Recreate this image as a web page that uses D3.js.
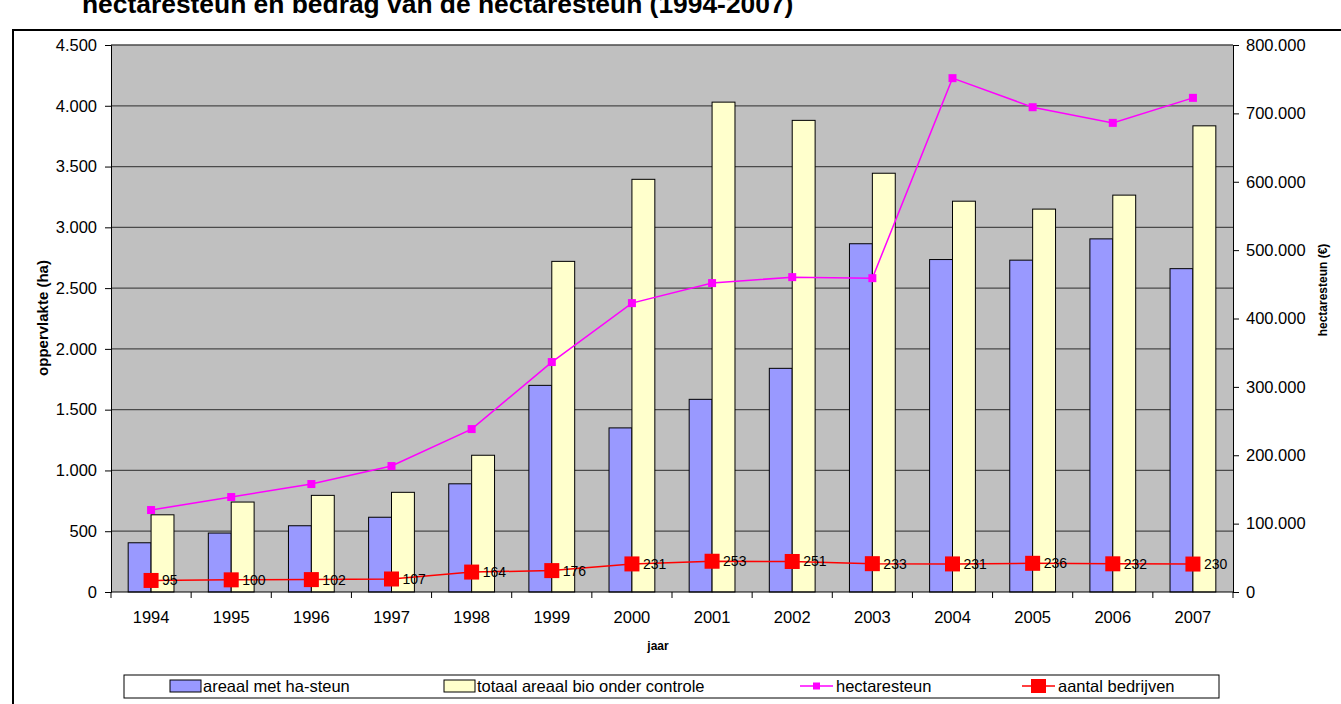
<!DOCTYPE html>
<html lang="nl">
  <head>
    <meta http-equiv="Content-Type" content="text/html; charset=UTF-8">
    <title>hectaresteun en bedrag van de hectaresteun (1994-2007)</title>
    <script type="text/javascript" src="https://cdn.jsdelivr.net/npm/d3@7"></script>
    <style type="text/css">
      body { margin: 0; background: white; }
      text { font-family: "Liberation Sans", Arial, sans-serif; }
    </style>
  </head>
  <body>
    <script type="text/javascript">

      var jaren = [ 1994, 1995, 1996, 1997, 1998, 1999, 2000, 2001, 2002, 2003, 2004, 2005, 2006, 2007 ];
      var areaalSteun = [ 405, 485, 545, 615, 890, 1700, 1350, 1585, 1840, 2865, 2735, 2730, 2905, 2660 ];
      var areaalTotaal = [ 635, 740, 795, 820, 1125, 2720, 3395, 4030, 3880, 3445, 3215, 3150, 3265, 3835 ];
      var hectaresteun = [ 119900, 138900, 157900, 184200, 238300, 336300, 422500, 451800, 460500, 459000, 751500, 709000, 686100, 722700 ];
      var bedrijven = [ 95, 100, 102, 107, 164, 176, 231, 253, 251, 233, 231, 236, 232, 230 ];
      var linksTicks = [ 0, 500, 1000, 1500, 2000, 2500, 3000, 3500, 4000, 4500 ];
      var rechtsTicks = [ 0, 100000, 200000, 300000, 400000, 500000, 600000, 700000, 800000 ];
      var legendaItems = [
        { label: "areaal met ha-steun", type: "bar", color: "#9999FF", x: 170 },
        { label: "totaal areaal bio onder controle", type: "bar", color: "#FFFFCC", x: 444 },
        { label: "hectaresteun", type: "line", color: "#FF00FF", x: 800 },
        { label: "aantal bedrijven", type: "line", color: "#FF0000", x: 1022 }
      ];

      var ancho = 1341;
      var alto = 704;
      var links = 111, rechts = 1233, boven = 45, onder = 592;

      var nl = d3.formatLocale({ decimal: ",", thousands: ".", grouping: [3], currency: ["€", ""] });
      var fmt = nl.format(",.0f");

      var svg = d3.select("body").append("svg")
                  .attr("width", ancho)
                  .attr("height", alto);

      // title sits above the frame and is cut by the page top, like the original
      svg.append("text")
         .attr("x", 82).attr("y", 13)
         .attr("font-size", 26.4).attr("font-weight", "bold")
         .text("hectaresteun en bedrag van de hectaresteun (1994-2007)");

      // outer frame of the chart
      svg.append("rect")
         .attr("x", 13).attr("y", 30)
         .attr("width", ancho + 10).attr("height", alto + 10)
         .attr("fill", "white").attr("stroke", "black").attr("stroke-width", 2);

      var escalaX = d3.scaleBand().domain(jaren).range([links, rechts]);
      var escalaY = d3.scaleLinear().domain([0, 4500]).range([onder, boven]);
      var escalaY2 = d3.scaleLinear().domain([0, 800000]).range([onder, boven]);
      var barW = escalaX.bandwidth() / 3.5;

      svg.append("rect")
         .attr("x", links).attr("y", boven)
         .attr("width", rechts - links).attr("height", onder - boven)
         .attr("fill", "#C0C0C0");

      svg.selectAll("line.grid")
         .data(linksTicks.slice(1))
         .enter().append("line")
         .attr("class", "grid")
         .attr("x1", links).attr("x2", rechts)
         .attr("y1", (d) => escalaY(d)).attr("y2", (d) => escalaY(d))
         .attr("stroke", "#4a4a4a").attr("stroke-width", 1.3);

      svg.selectAll("rect.steun")
         .data(areaalSteun)
         .enter().append("rect")
         .attr("class", "steun")
         .attr("x", (d, i) => escalaX(jaren[i]) + escalaX.bandwidth() / 2 - barW)
         .attr("y", (d) => escalaY(d))
         .attr("width", barW)
         .attr("height", (d) => onder - escalaY(d))
         .attr("fill", "#9999FF").attr("stroke", "black").attr("stroke-width", 1);

      svg.selectAll("rect.totaal")
         .data(areaalTotaal)
         .enter().append("rect")
         .attr("class", "totaal")
         .attr("x", (d, i) => escalaX(jaren[i]) + escalaX.bandwidth() / 2)
         .attr("y", (d) => escalaY(d))
         .attr("width", barW)
         .attr("height", (d) => onder - escalaY(d))
         .attr("fill", "#FFFFCC").attr("stroke", "black").attr("stroke-width", 1);

      var cx = (d, i) => escalaX(jaren[i]) + escalaX.bandwidth() / 2;

      // hectaresteun on right axis
      var lijn2 = d3.line().x(cx).y((d) => escalaY2(d));
      svg.append("path")
         .datum(hectaresteun)
         .attr("d", lijn2)
         .attr("fill", "none").attr("stroke", "#FF00FF").attr("stroke-width", 1.5);
      svg.selectAll("rect.hs")
         .data(hectaresteun)
         .enter().append("rect")
         .attr("class", "hs")
         .attr("x", (d, i) => cx(d, i) - 4).attr("y", (d) => escalaY2(d) - 4)
         .attr("width", 8).attr("height", 8)
         .attr("fill", "#FF00FF");

      // aantal bedrijven on left axis
      var lijn1 = d3.line().x(cx).y((d) => escalaY(d));
      svg.append("path")
         .datum(bedrijven)
         .attr("d", lijn1)
         .attr("fill", "none").attr("stroke", "#FF0000").attr("stroke-width", 1.5);
      svg.selectAll("rect.bed")
         .data(bedrijven)
         .enter().append("rect")
         .attr("class", "bed")
         .attr("x", (d, i) => cx(d, i) - 7.5).attr("y", (d) => escalaY(d) - 7.5)
         .attr("width", 15).attr("height", 15)
         .attr("fill", "#FF0000");
      svg.selectAll("text.bed")
         .data(bedrijven)
         .enter().append("text")
         .attr("class", "bed")
         .attr("x", (d, i) => cx(d, i) + 11).attr("y", (d) => escalaY(d) + 5)
         .attr("font-size", 14)
         .text((d) => d);

      // axes
      var ejeY = svg.append("g")
         .attr("transform", "translate(" + links + ",0)")
         .call(d3.axisLeft(escalaY).tickValues(linksTicks).tickFormat(fmt).tickSize(6).tickPadding(8));
      var ejeY2 = svg.append("g")
         .attr("transform", "translate(" + rechts + ",0)")
         .call(d3.axisRight(escalaY2).tickValues(rechtsTicks).tickFormat(fmt).tickSize(6).tickPadding(7));
      var ejeX = svg.append("g")
         .attr("transform", "translate(0," + onder + ")")
         .call(d3.axisBottom(escalaX).tickSize(0).tickPadding(19));
      svg.selectAll("line.xtick")
         .data(d3.range(jaren.length + 1))
         .enter().append("line")
         .attr("class", "xtick")
         .attr("x1", (d) => links + d * escalaX.step()).attr("x2", (d) => links + d * escalaX.step())
         .attr("y1", onder).attr("y2", onder + 6)
         .attr("stroke", "black");

      [ejeY, ejeY2, ejeX].forEach(function (g) {
        g.selectAll("text").attr("font-size", 16.5).attr("fill", "black")
         .style("font-family", "'Liberation Sans', Arial, sans-serif");
        g.selectAll("path.domain").attr("stroke", "black");
        g.selectAll("line").attr("stroke", "black");
      });
      ejeX.select("path.domain").attr("d", "M" + links + ",0H" + rechts);

      svg.append("text")
         .attr("transform", "translate(48,318) rotate(-90)")
         .attr("text-anchor", "middle").attr("font-size", 15).attr("font-weight", "bold")
         .text("oppervlakte (ha)");
      svg.append("text")
         .attr("transform", "translate(1327,290) rotate(-90)")
         .attr("text-anchor", "middle").attr("font-size", 12).attr("font-weight", "bold")
         .text("hectaresteun (€)");
      svg.append("text")
         .attr("x", 658).attr("y", 650)
         .attr("text-anchor", "middle").attr("font-size", 12).attr("font-weight", "bold")
         .text("jaar");

      // legend
      svg.append("rect")
         .attr("x", 124).attr("y", 675).attr("width", 1095).attr("height", 23)
         .attr("fill", "white").attr("stroke", "black").attr("stroke-width", 1);
      var leg = svg.selectAll("g.leg")
         .data(legendaItems)
         .enter().append("g")
         .attr("class", "leg")
         .attr("transform", (d) => "translate(" + d.x + ",686)");
      leg.filter((d) => d.type == "bar").append("rect")
         .attr("x", 0).attr("y", -6).attr("width", 31).attr("height", 12)
         .attr("fill", (d) => d.color).attr("stroke", "black");
      leg.filter((d) => d.type == "line").append("line")
         .attr("x1", 0).attr("x2", 33).attr("y1", 0).attr("y2", 0)
         .attr("stroke", (d) => d.color).attr("stroke-width", 1.5);
      leg.filter((d) => d.type == "line").append("rect")
         .attr("x", (d) => d.color == "#FF0000" ? 9 : 13)
         .attr("y", (d) => d.color == "#FF0000" ? -7 : -3.5)
         .attr("width", (d) => d.color == "#FF0000" ? 15 : 7)
         .attr("height", (d) => d.color == "#FF0000" ? 14 : 7)
         .attr("fill", (d) => d.color);
      leg.append("text")
         .attr("x", (d) => d.type == "bar" ? 33 : 36).attr("y", 6)
         .attr("font-size", 16.5)
         .text((d) => d.label);

    </script>
  </body>
</html>
